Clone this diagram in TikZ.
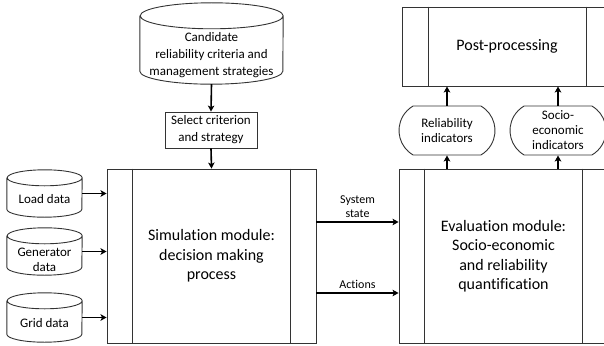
\documentclass[tikz,border=0pt]{standalone}
\usepackage{fontspec}
\setmainfont{Carlito}[Ligatures={NoCommon}]
\usetikzlibrary{shapes.misc,arrows.meta}

% cylinder outline round a node: node, x radius, y radius
\newcommand{\cylwall}[3]{%
  \draw[box] ([yshift=-#3pt]#1.north west) -- ([yshift=#3pt]#1.south west)
    arc[start angle=180, end angle=360, x radius=#2pt, y radius=#3pt]
    -- ([yshift=-#3pt]#1.north east)
    arc[start angle=0, end angle=360, x radius=#2pt, y radius=#3pt];
}
% the two inner side bars of a process box: node, inset
\newcommand{\procbars}[2]{%
  \draw[box] ([xshift=#2pt]#1.north west) -- ([xshift=#2pt]#1.south west);
  \draw[box] ([xshift=-#2pt]#1.north east) -- ([xshift=-#2pt]#1.south east);
}

\begin{document}
\begin{tikzpicture}[x=1pt, y=-1pt,
    box/.style={draw=black!80, line width=0.9pt},
    flow/.style={->, >={Stealth[length=6pt,width=6.5pt,inset=1.5pt]}, line width=1.6pt},
    bigtxt/.style={font=\fontsize{16}{19.5}\selectfont, align=center},
    midtxt/.style={font=\fontsize{13}{17}\selectfont, align=center},
    smltxt/.style={font=\fontsize{13}{15}\selectfont, align=center},
    lbltxt/.style={font=\fontsize{12}{14}\selectfont, align=center},
    proc/.style={box, rectangle, inner sep=0pt, minimum width=209pt, bigtxt},
    ind/.style={box, rounded rectangle, rounded rectangle arc length=120,
                minimum width=96pt, minimum height=49pt, inner sep=0pt, smltxt}]
    \useasboundingbox (0,0) rectangle (604,345);
    \clip (0,0) rectangle (604,345);

    % data stores
    \node[minimum width=143pt, minimum height=81pt, inner sep=0pt,
          label={[name=cand-t, midtxt, yshift=-11.5pt]center:{Candidate\\reliability criteria and\\management strategies}}]
          (cand) at (211.5,43.5) {};
    \cylwall{cand}{71.5}{13}

    \node[minimum width=75pt, minimum height=47pt, inner sep=0pt,
          label={[name=load-t, smltxt, yshift=-5.5pt]center:{Load data}}]
          (load) at (44.5,193.5) {};
    \cylwall{load}{37.5}{8}
    \node[minimum width=75pt, minimum height=47pt, inner sep=0pt,
          label={[name=gen-t, smltxt, yshift=-8pt]center:{Generator\\data}}]
          (gen) at (44.5,251.5) {};
    \cylwall{gen}{37.5}{8}
    \node[minimum width=75pt, minimum height=49pt, inner sep=0pt,
          label={[name=grid-t, smltxt, yshift=-5.5pt]center:{Grid data}}]
          (grid) at (44.5,317.5) {};
    \cylwall{grid}{37.5}{8}

    % selection step
    \node[box, rectangle, inner sep=0pt, minimum width=92pt, minimum height=36pt, midtxt]
          (sel) at (211,130) {Select criterion\\and strategy};

    % modules
    \node[proc, minimum height=174pt] (sim) at (211.5,256) {Simulation module:\\decision making\\process};
    \procbars{sim}{26}
    \node[proc, minimum height=174pt] (eval) at (503.5,256) {Evaluation module:\\Socio-economic\\and reliability\\quantification};
    \procbars{eval}{26}
    \node[proc, minimum height=79pt] (post) at (507,46.5) {Post-processing};
    \procbars{post}{26}

    % indicators
    \node[ind] (rel) at (447,130.5) {Reliability\\indicators};
    \node[ind] (soc) at (558,130.5) {Socio-\\economic\\indicators};

    % arrows
    \draw[flow] (cand.south) -- (sel.north);
    \draw[flow] (sel.south) -- (sim.north);
    \foreach \src in {load,gen,grid}
        \draw[flow] (\src.east) -- (\src.east -| sim.west);

    \coordinate (st) at ([yshift=34pt]sim.east);
    \coordinate (ac) at ([yshift=-37pt]sim.east);
    \draw[flow] (st) -- (st -| eval.west) node[midway, above, lbltxt, name=st-l] {System\\state};
    \draw[flow] (ac) -- (ac -| eval.west) node[midway, above, lbltxt, name=ac-l] {Actions};

    \foreach \ind in {rel,soc}{
        \draw[flow] (eval.north -| \ind) -- (\ind.south);
        \draw[flow] (\ind.north) -- (\ind.north |- post.south);
    }
\end{tikzpicture}
\end{document}
